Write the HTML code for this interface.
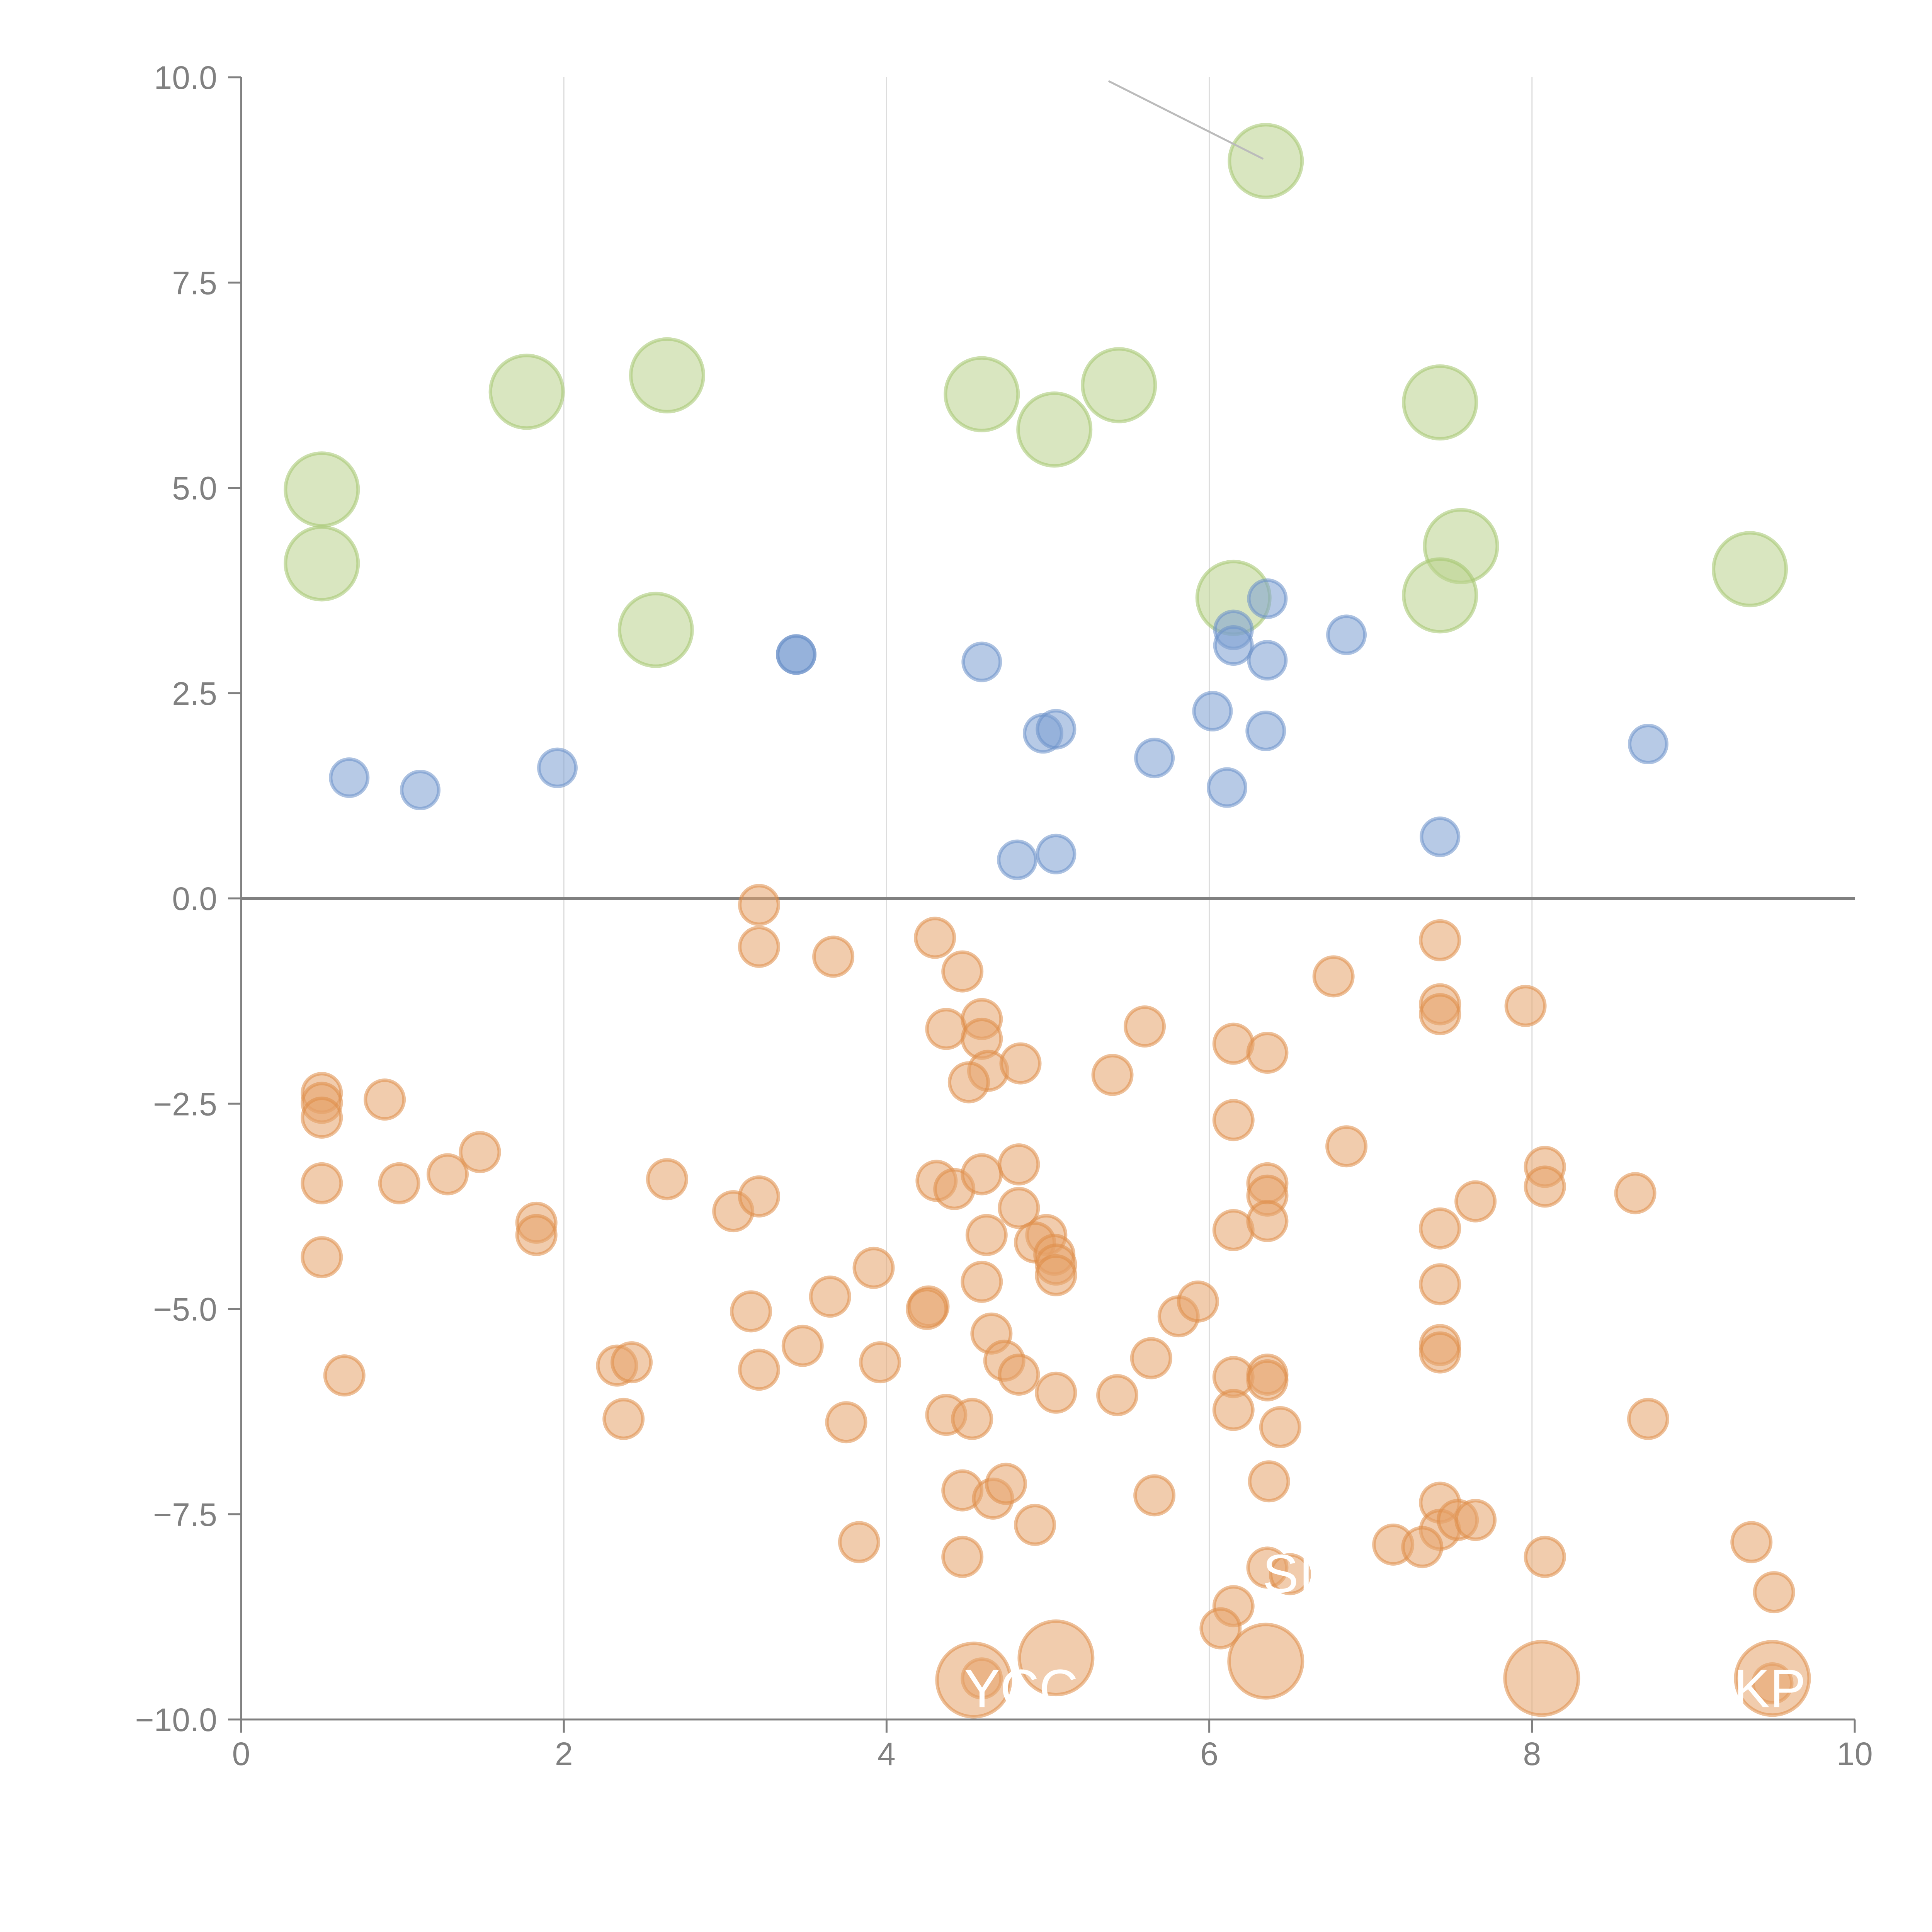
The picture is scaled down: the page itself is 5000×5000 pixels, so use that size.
<!DOCTYPE html>
<html><head><meta charset="utf-8"><style>
html,body{margin:0;padding:0;background:#fff;}
svg{display:block;}
text{font-family:"Liberation Sans",sans-serif;}
</style></head><body>
<svg id="chart" width="5000" height="5000" viewBox="0 0 5000 5000" xmlns="http://www.w3.org/2000/svg">
<g id="grid"></g>
<g id="axes"></g>
<g id="marks"></g>
<g id="labels"></g>
</svg>
<script>
const xTicks = [0, 2, 4, 6, 8, 10];
const xTickLabels = ["0", "2", "4", "6", "8", "10"];
const yTicks = [-10, -7.5, -5, -2.5, 0, 2.5, 5, 7.5, 10];
const yTickLabels = ["\u221210.0", "\u22127.5", "\u22125.0", "\u22122.5", "0.0", "2.5", "5.0", "7.5", "10.0"];

const greenX = [6.35,1.77,2.64,4.59,5.44,5.04,7.43,0.50,0.50,7.56,6.15,7.43,9.35,2.57];
const greenY = [8.98,6.17,6.37,6.14,6.25,5.71,6.04,4.98,4.08,4.29,3.66,3.69,4.01,3.27];

const blueX = [3.44,3.44,4.59,0.67,1.11,1.96,4.97,5.05,5.66,6.02,6.11,6.15,6.15,6.36,6.36,6.35,6.85,8.72,7.43,4.81,5.05];
const blueY = [2.97,2.97,2.88,1.47,1.32,1.59,2.01,2.06,1.71,2.28,1.35,3.27,3.08,3.65,2.90,2.04,3.21,1.88,0.75,0.47,0.54];

const orangeX = [3.21,3.21,3.67,4.30,4.47,4.37,4.59,4.59,4.63,4.83,4.51,5.60,5.40,6.15,6.36,6.77,7.43,7.43,7.43,7.96,6.15,6.85,0.50,0.50,0.50,0.89,0.50,0.98,1.28,1.48,2.64,3.05,3.21,1.83,1.83,0.50,0.64,3.16,3.48,3.65,3.92,3.96,3.21,2.33,2.42,2.37,3.75,3.83,4.31,4.42,4.59,4.82,4.82,4.62,4.99,4.92,5.04,5.05,5.05,4.26,4.25,4.59,4.65,4.73,4.82,5.05,4.37,4.53,4.47,4.66,4.74,4.92,4.47,5.43,5.64,5.66,5.81,5.93,6.15,6.36,6.36,6.36,6.15,6.15,6.36,6.36,6.44,6.37,7.43,7.43,7.43,7.43,7.65,8.08,8.08,8.64,8.72,7.43,7.43,7.54,7.65,7.14,7.32,8.08,6.36,6.50,6.15,6.07,9.36,9.50,4.59,9.49];
const orangeY = [-0.08,-0.59,-0.71,-0.48,-0.89,-1.59,-1.47,-1.71,-2.10,-2.01,-2.24,-1.56,-2.15,-1.77,-1.88,-0.95,-0.51,-1.29,-1.41,-1.31,-2.70,-3.02,-2.37,-2.49,-2.67,-2.45,-3.47,-3.47,-3.36,-3.09,-3.42,-3.81,-3.63,-3.95,-4.10,-4.37,-5.81,-5.03,-5.45,-4.85,-4.50,-5.65,-5.74,-5.69,-5.65,-6.34,-6.38,-7.84,-3.44,-3.54,-3.36,-3.24,-3.77,-4.10,-4.10,-4.19,-4.34,-4.46,-4.59,-4.97,-5.00,-4.67,-5.30,-5.63,-5.80,-6.02,-6.29,-6.34,-7.21,-7.31,-7.13,-7.63,-8.02,-6.05,-5.60,-7.27,-5.09,-4.91,-4.04,-3.47,-3.62,-3.93,-5.83,-6.23,-5.80,-5.87,-6.44,-7.10,-4.02,-4.70,-5.44,-5.53,-3.69,-3.27,-3.51,-3.59,-6.34,-7.36,-7.69,-7.57,-7.57,-7.87,-7.90,-8.02,-8.15,-8.23,-8.62,-8.89,-7.84,-8.45,-9.50,-9.56];

const bigOrangeX = [4.54,5.05,6.35,8.06,9.49];
const bigOrangeY = [-9.52,-9.25,-9.29,-9.50,-9.50];

const labelTexts = ["SIP", "YCC", "KP"];
const labelX = [6.33, 4.48, 9.25];
const labelY = [-8.45, -9.85, -9.85];

const NS = "http://www.w3.org/2000/svg";
const X0 = 624, X1 = 4800, Y0 = 4450, Y1 = 200;
function sx(v){ return X0 + (v - 0) / 10 * (X1 - X0); }
function sy(v){ return Y0 - (v + 10) / 20 * (Y0 - Y1); }
function mk(tag, attrs, parent){ const e = document.createElementNS(NS, tag); for (const k in attrs) e.setAttribute(k, attrs[k]); parent.appendChild(e); return e; }

const grid = document.getElementById('grid');
const axes = document.getElementById('axes');
const marks = document.getElementById('marks');
const labels = document.getElementById('labels');

xTicks.forEach((t, i) => {
  if (t > 0 && t < 10) {
    const g = mk('line', {x1: sx(t), x2: sx(t), y1: Y1, y2: Y0, stroke: '#dddddd', 'stroke-width': 3}, grid);
    
    
  }
  const tk = mk('line', {x1: sx(t), x2: sx(t), y1: Y0, y2: Y0 + 34, stroke: '#808080', 'stroke-width': 5}, axes);
  
  
  const lb = mk('text', {x: sx(t), y: Y0 + 118, 'text-anchor': 'middle', 'font-size': 84, fill: '#808080'}, axes);
  lb.textContent = xTickLabels[i];
  
  
});
yTicks.forEach((t, i) => {
  const tk = mk('line', {x1: X0 - 34, x2: X0, y1: sy(t), y2: sy(t), stroke: '#808080', 'stroke-width': 5}, axes);
  
  
  const lb = mk('text', {x: X0 - 62, y: sy(t) + 30, 'text-anchor': 'end', 'font-size': 84, fill: '#808080'}, axes);
  lb.textContent = yTickLabels[i];
  
  
});
const xa = mk('line', {x1: X0, x2: X1, y1: Y0, y2: Y0, stroke: '#808080', 'stroke-width': 5}, axes);


const ya = mk('line', {x1: X0, x2: X0, y1: Y1, y2: Y0, stroke: '#808080', 'stroke-width': 5}, axes);


const zl = mk('line', {x1: X0, x2: X1, y1: sy(0), y2: sy(0), stroke: '#808080', 'stroke-width': 8}, axes);



function drawSeries(xs, ys, r, fill, stroke, name){
  xs.forEach((x, i) => {
    const c = mk('circle', {cx: sx(x), cy: sy(ys[i]), r: r, fill: fill, 'fill-opacity': 0.55, stroke: stroke, 'stroke-opacity': 0.55, 'stroke-width': 9}, marks);
    
    
  });
}
drawSeries(greenX, greenY, 94, '#b9d18c', '#a3c46b', 'green-bubble');
drawSeries(blueX, blueY, 48, '#7b9fd1', '#6a90c8', 'blue-bubble');
drawSeries(orangeX, orangeY, 50, '#e6a36a', '#de8d47', 'orange-bubble');
drawSeries(bigOrangeX, bigOrangeY, 95, '#e6a36a', '#de8d47', 'large-orange-bubble');

const leader = mk('line', {x1: sx(5.38), y1: sy(9.95), x2: sx(6.33), y2: sy(9.01), stroke: '#bbbbbb', 'stroke-width': 5, 'stroke-linecap': 'round'}, labels);



labelTexts.forEach((t, i) => {
  const tx = mk('text', {x: sx(labelX[i]), y: sy(labelY[i]), 'font-size': 140, fill: '#ffffff'}, labels);
  tx.textContent = t;
  
  
});
</script>
</body></html>
